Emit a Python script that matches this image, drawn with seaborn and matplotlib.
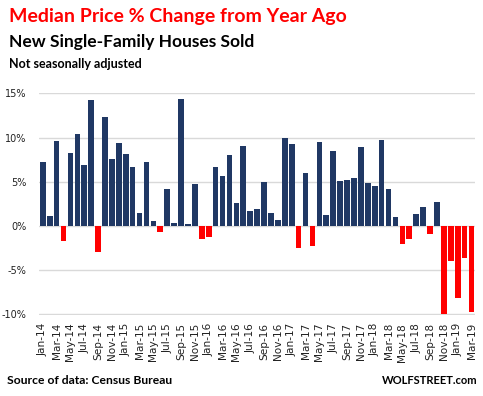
import numpy as np
import pandas as pd
import seaborn as sns
import matplotlib.pyplot as plt

sns.set_style("white")
plt.rcParams['font.family'] = ['DejaVu Sans']

# monthly median price change vs. year ago, %, Jan-14 .. Mar-19
y2014 = [7.2, 1.1, 9.6, -1.7, 8.2, 10.4, 6.9, 14.2, -3.0, 12.3, 7.6, 9.4]
y2015 = [8.1, 6.7, 1.5, 7.2, 0.6, -0.7, 4.2, 0.3, 14.4, 0.2, 4.7, -1.5]
y2016 = [-1.2, 6.7, 5.6, 8.0, 2.6, 9.0, 1.7, 1.9, 5.0, 1.5, 0.7, 9.9]
y2017 = [9.3, -2.5, 6.0, -2.3, 9.5, 1.2, 8.5, 5.1, 5.2, 5.4, 8.9, 4.9]
y2018 = [4.5, 9.7, 4.2, 1.0, -2.1, -1.5, 1.4, 2.1, -0.9, 2.7, -10.0, -4.0]
y2019 = [-8.1, -3.6, -9.7]

values = y2014 + y2015 + y2016 + y2017 + y2018 + y2019
months = pd.date_range("2014-01-01", periods=len(values), freq="MS").strftime("%b-%y").tolist()

df = pd.DataFrame({"month": months, "change": values})
df["sign"] = np.where(df["change"] < 0, "neg", "pos")

W, H = 483, 396
fig = plt.figure(figsize=(W / 100, H / 100), dpi=100)
ax = fig.add_axes([39.3 / W, 1 - 315.2 / H, (475 - 39.3) / W, (315.2 - 92.9) / H])

sns.barplot(data=df, x="month", y="change", hue="sign",
            palette={"pos": "#203864", "neg": "#FF0000"},
            width=0.82, dodge=False, legend=False, ax=ax, saturation=1,
            linewidth=0, edgecolor="none")

# make sure every bar has the full 0.82 width
for p in ax.patches:
    c = p.get_x() + p.get_width() / 2
    p.set_width(0.82)
    p.set_x(c - 0.41)

ax.set_ylim(-10.1, 15.05)
ax.set_xlim(-0.5, len(values) - 0.5)
yt = [-10, -5, 0, 5, 10, 15]
ax.set_yticks(yt)
ax.set_yticklabels([f"{v}%" for v in yt], fontsize=7, color="#222222")
xt = list(range(0, len(values), 2))
ax.set_xticks(xt)
ax.set_xticklabels([months[i] for i in xt], rotation=90, fontsize=7.6, color="#222222")
ax.tick_params(axis="both", length=0)
ax.tick_params(axis="y", pad=9)
ax.tick_params(axis="x", pad=5.5)
ax.set_xlabel("")
ax.set_ylabel("")
ax.yaxis.grid(True, color="#D9D9D9", lw=1)
ax.set_axisbelow(True)
for s in ax.spines.values():
    s.set_visible(False)

tf = ["Lato", "DejaVu Sans"]
fig.text(9 / W, 1 - 21.7 / H, "Median Price % Change from Year Ago", color="#FF0000",
         fontsize=14, fontweight="bold", family=tf, va="baseline")
fig.text(9 / W, 1 - 46.7 / H, "New Single-Family Houses Sold", color="black",
         fontsize=12.5, fontweight="bold", family=tf, va="baseline")
fig.text(9 / W, 1 - 67.7 / H, "Not seasonally adjusted", color="black",
         fontsize=9, fontweight="bold", family=tf, va="baseline")
fig.text(7 / W, 1 - 384 / H, "Source of data: Census Bureau", color="black",
         fontsize=8.7, fontweight="bold", family=tf, va="baseline")
fig.text(478 / W, 1 - 384 / H, "WOLFSTREET.com", color="black",
         fontsize=8.0, fontweight="bold", family=tf, va="baseline", ha="right")

fig.savefig("out.png", dpi=100)
